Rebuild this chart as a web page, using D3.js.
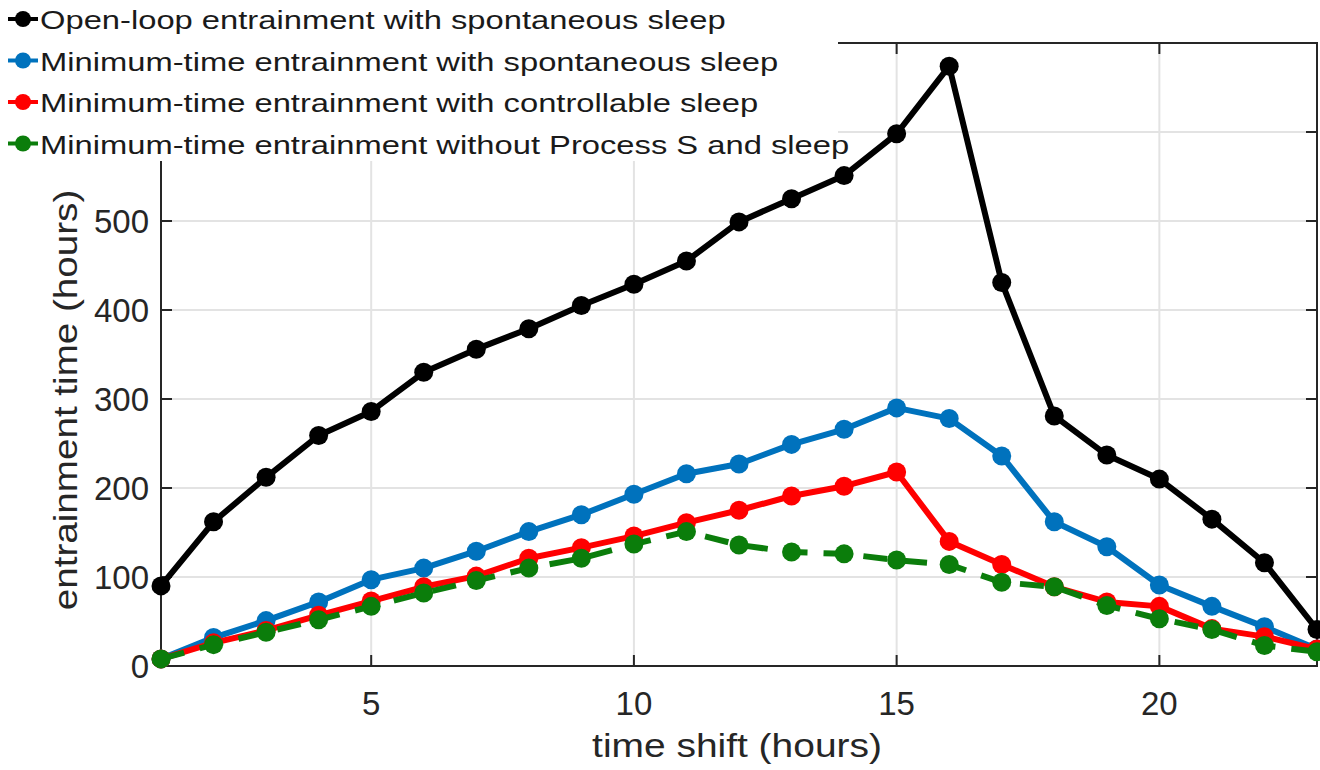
<!DOCTYPE html>
<html>
<head>
<meta charset="utf-8">
<script src="https://cdn.jsdelivr.net/npm/d3@7"></script>
<style>
  body { margin: 0; background: #fff; }
  svg { display: block; font-family: "Liberation Sans", Arial, sans-serif; }
</style>
</head>
<body>
<svg width="1320" height="770"></svg>
<script>
// time shift (hours)
var shifts = d3.range(1, 24);

// entrainment time (hours)
var openLoop = [90, 162, 212, 259, 286, 330, 356, 379, 405, 429, 455, 499, 525, 551, 598, 674, 431, 281, 237, 210, 165, 116, 41];
var minSpont = [8, 32, 51, 72, 97, 110, 129, 151, 170, 193, 216, 227, 249, 266, 290, 278, 236, 162, 134, 91, 67, 44, 19];
var minCtrl  = [8, 26, 40, 57, 73, 89, 101, 121, 133, 146, 161, 175, 191, 202, 218, 140, 114, 89, 72, 67, 42, 33, 19];
var noSleep  = [8, 24, 38, 52, 67, 82, 96, 110, 121, 137, 151, 136, 128, 126, 119, 114, 94, 89, 68, 53, 41, 23, 16];

var xTicks = [5, 10, 15, 20];
var yTicks = [0, 100, 200, 300, 400, 500, 600, 700];
var yLabels = [0, 100, 200, 300, 400, 500];

var seriesNames = [
  "Open-loop entrainment with spontaneous sleep",
  "Minimum-time entrainment with spontaneous sleep",
  "Minimum-time entrainment with controllable sleep",
  "Minimum-time entrainment without Process S and sleep"
];
var seriesColors = ["#000000", "#0072bd", "#ff0000", "#0b7d0b"];

var series = [openLoop, minSpont, minCtrl, noSleep].map(function(v, i) {
  return { name: seriesNames[i], color: seriesColors[i], dashed: i == 3,
           values: v.map(function(d, j) { return { x: shifts[j], y: d }; }) };
});

var svg = d3.select("svg"),
    plotL = 161, plotR = 1317, plotT = 43, plotB = 666;

var x = d3.scaleLinear().domain([1, 23]).range([plotL, plotR]);
var y = d3.scaleLinear().domain([0, 700]).range([plotB, plotT]);

var axisColor = "#262626", gridColor = "#e3e3e3", tickLen = 11;

// grid
svg.append("g").selectAll("line").data(xTicks).enter().append("line")
  .attr("x1", function(d) { return x(d); }).attr("x2", function(d) { return x(d); })
  .attr("y1", plotT).attr("y2", plotB)
  .attr("stroke", gridColor).attr("stroke-width", 2);
svg.append("g").selectAll("line").data(yTicks.slice(1, -1)).enter().append("line")
  .attr("x1", plotL).attr("x2", plotR)
  .attr("y1", function(d) { return y(d); }).attr("y2", function(d) { return y(d); })
  .attr("stroke", gridColor).attr("stroke-width", 2);

// box + inward ticks
var axes = svg.append("g").attr("fill", "none").attr("stroke", axisColor).attr("stroke-width", 2);
axes.append("rect").attr("x", plotL).attr("y", plotT).attr("width", plotR - plotL).attr("height", plotB - plotT);
xTicks.forEach(function(t) {
  axes.append("line").attr("x1", x(t)).attr("x2", x(t)).attr("y1", plotB).attr("y2", plotB - tickLen);
  axes.append("line").attr("x1", x(t)).attr("x2", x(t)).attr("y1", plotT).attr("y2", plotT + tickLen);
});
yTicks.slice(1, -1).forEach(function(t) {
  axes.append("line").attr("x1", plotL).attr("x2", plotL + tickLen).attr("y1", y(t)).attr("y2", y(t));
  axes.append("line").attr("x1", plotR).attr("x2", plotR - tickLen).attr("y1", y(t)).attr("y2", y(t));
});

// tick labels
svg.append("g").selectAll("text").data(xTicks).enter().append("text")
  .attr("x", function(d) { return x(d); }).attr("y", 715)
  .attr("text-anchor", "middle").attr("font-size", 33).attr("fill", axisColor)
  .text(function(d) { return d; });
svg.append("g").selectAll("text").data(yLabels).enter().append("text")
  .attr("x", 149).attr("y", function(d) { return y(d) + 12; })
  .attr("text-anchor", "end").attr("font-size", 33).attr("fill", axisColor)
  .text(function(d) { return d; });

// axis titles (the reference type is set a little wider than Arial)
svg.append("text").attr("transform", "translate(737,757) scale(1.18,1)")
  .attr("text-anchor", "middle").attr("font-size", 33).attr("fill", axisColor)
  .text("time shift (hours)");
svg.append("text").attr("transform", "translate(77,400) rotate(-90) scale(1.17,1)")
  .attr("text-anchor", "middle").attr("font-size", 33).attr("fill", axisColor)
  .text("entrainment time (hours)");

// lines
var line = d3.line().x(function(d) { return x(d.x); }).y(function(d) { return y(d.y); });
var plot = svg.append("g");
series.forEach(function(s) {
  var g = plot.append("g");
  g.append("path").datum(s.values)
    .attr("d", line).attr("fill", "none")
    .attr("stroke", s.color).attr("stroke-width", 6)
    .attr("stroke-linejoin", "round")
    .attr("stroke-dasharray", s.dashed ? "24,16" : null);
  g.selectAll("circle").data(s.values).enter().append("circle")
    .attr("cx", function(d) { return x(d.x); }).attr("cy", function(d) { return y(d.y); })
    .attr("r", 9.5).attr("fill", s.color);
});

// legend (white box over the top-left of the axes)
var legend = svg.append("g");
legend.append("rect").attr("x", 0).attr("y", 0).attr("width", 838).attr("height", 161).attr("fill", "#fff");
var item = legend.selectAll("g.item").data(series).enter().append("g")
  .attr("class", "item")
  .attr("transform", function(d, i) { return "translate(0," + (19 + i * 41.5) + ")"; });
item.append("line").attr("x1", 8).attr("x2", 38).attr("y1", 0).attr("y2", 0)
  .attr("stroke", function(d) { return d.color; }).attr("stroke-width", 4);
item.append("circle").attr("cx", 23).attr("cy", 0).attr("r", 8)
  .attr("fill", function(d) { return d.color; });
item.append("text").attr("transform", "translate(40,10) scale(1.235,1)")
  .attr("font-size", 26.5).attr("fill", "#1a1a1a")
  .text(function(d) { return d.name; });
</script>
</body>
</html>
